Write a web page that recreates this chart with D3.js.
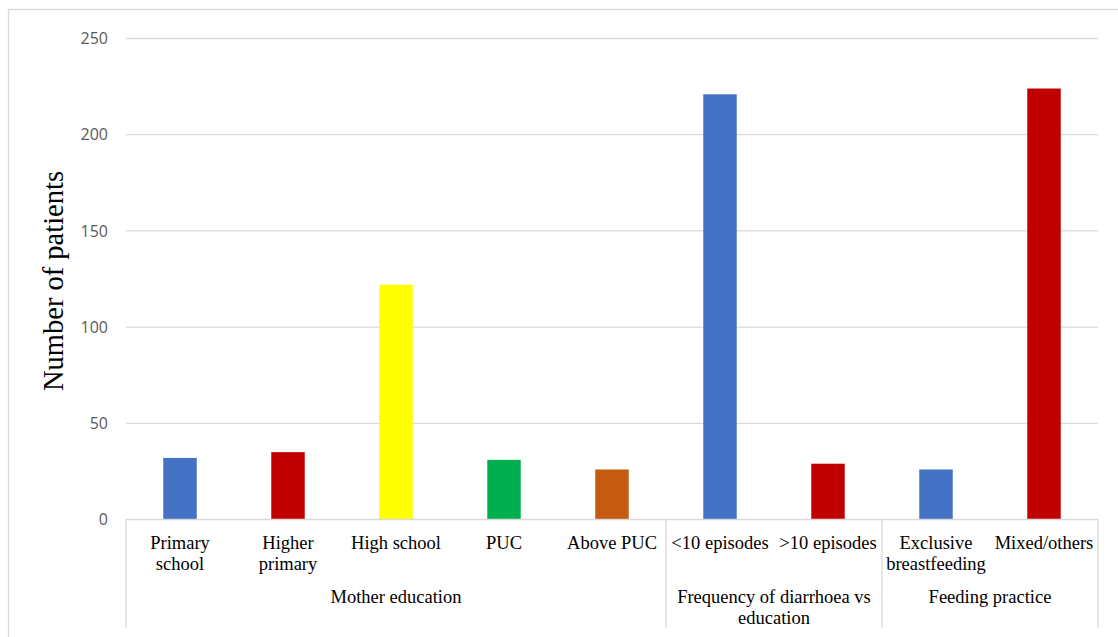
<!DOCTYPE html>
<html>
<head>
<meta charset="utf-8">
<script src="https://cdn.jsdelivr.net/npm/d3@7/dist/d3.min.js"></script>
<style>
  html, body { margin: 0; padding: 0; background: #fff; }
  svg { display: block; }
</style>
</head>
<body>
<svg id="chart" width="1118" height="637"></svg>
<script>
// ---- data ----
const categories = ["Primary school", "Higher primary", "High school", "PUC", "Above PUC",
                    "<10 episodes", ">10 episodes", "Exclusive breastfeeding", "Mixed/others"];
const values = [32, 35, 122, 31, 26, 221, 29, 26, 224];
const groupNames = ["Mother education", "Frequency of diarrhoea vs education", "Feeding practice"];
const groupSizes = [5, 2, 2];
const barColors = ["#4472C4", "#C00000", "#FFFF00", "#00B050", "#C55A11",
                   "#4472C4", "#C00000", "#4472C4", "#C00000"];
const yTicks = [0, 50, 100, 150, 200, 250];
const yTitle = "Number of patients";

// ---- layout ----
const svg = d3.select("#chart");
const plotLeft = 126, plotRight = 1098, plotTop = 38.5, plotBottom = 519.5;
const axisBottom = 628;
const gridColor = "#d9d9d9";

// chart border
svg.append("rect")
  .attr("x", 8.5).attr("y", 9.5).attr("width", 1120).attr("height", 640)
  .attr("fill", "none").attr("stroke", gridColor).attr("stroke-width", 1.3);

const x = d3.scaleBand().domain(categories).range([plotLeft, plotRight])
  .paddingInner(0.69).paddingOuter(0.345);
const y = d3.scaleLinear().domain([0, 250]).range([plotBottom, plotTop]);

// gridlines
svg.append("g").selectAll("line").data(yTicks.filter(d => d > 0)).join("line")
  .attr("x1", plotLeft).attr("x2", plotRight)
  .attr("y1", d => y(d)).attr("y2", d => y(d))
  .attr("stroke", gridColor).attr("stroke-width", 1.3);

// y tick labels
svg.append("g").selectAll("text").data(yTicks).join("text")
  .attr("x", 108).attr("y", d => y(d)).attr("dy", "0.35em")
  .attr("text-anchor", "end")
  .attr("font-family", "'Open Sans', sans-serif").attr("font-size", 16)
  .attr("fill", "#595959")
  .text(d => d);

const serif = "'Liberation Serif', 'Times New Roman', serif";

// y title
svg.append("text")
  .attr("transform", `translate(63,${(plotTop + plotBottom) / 2 + 2}) rotate(-90)`)
  .attr("text-anchor", "middle")
  .attr("font-family", serif)
  .attr("font-size", 28.5).attr("fill", "#000")
  .text(yTitle);

// bars
svg.append("g").selectAll("rect").data(categories).join("rect")
  .attr("x", d => x(d)).attr("width", x.bandwidth())
  .attr("y", (d, i) => y(values[i]))
  .attr("height", (d, i) => y(0) - y(values[i]))
  .attr("fill", (d, i) => barColors[i]);

// category axis: baseline and boundary lines
svg.append("line").attr("x1", plotLeft).attr("x2", plotRight)
  .attr("y1", plotBottom).attr("y2", plotBottom)
  .attr("stroke", gridColor).attr("stroke-width", 1.3);

let cum = 0;
const bounds = [0];
groupSizes.forEach(n => { cum += n; bounds.push(cum); });
const step = x.step();
svg.append("g").selectAll("line").data(bounds).join("line")
  .attr("x1", d => plotLeft + d * step).attr("x2", d => plotLeft + d * step)
  .attr("y1", plotBottom).attr("y2", axisBottom)
  .attr("stroke", gridColor).attr("stroke-width", 1.3);

// text wrap helper
function wrapText(sel, width, lineH) {
  sel.each(function () {
    const t = d3.select(this);
    const words = t.text().split(/\s+/);
    const xPos = t.attr("x"), yPos = +t.attr("y");
    t.text(null);
    let line = [], lineNo = 0;
    let ts = t.append("tspan").attr("x", xPos).attr("y", yPos);
    for (const w of words) {
      line.push(w);
      ts.text(line.join(" "));
      if (ts.node().getComputedTextLength() > width && line.length > 1) {
        line.pop();
        ts.text(line.join(" "));
        line = [w];
        lineNo++;
        ts = t.append("tspan").attr("x", xPos).attr("y", yPos + lineNo * lineH).text(w);
      }
    }
  });
}

// category labels
svg.append("g").selectAll("text").data(categories).join("text")
  .attr("x", d => x(d) + x.bandwidth() / 2).attr("y", 549)
  .attr("text-anchor", "middle")
  .attr("font-family", serif).attr("font-size", 18.5).attr("fill", "#000")
  .text(d => d)
  .call(wrapText, 102, 20.5);

// group labels
svg.append("g").selectAll("text").data(groupNames).join("text")
  .attr("x", (d, i) => plotLeft + (bounds[i] + bounds[i + 1]) / 2 * step).attr("y", 603)
  .attr("text-anchor", "middle")
  .attr("font-family", serif).attr("font-size", 18.5).attr("fill", "#000")
  .text(d => d)
  .call(wrapText, 200, 20.5);
</script>
</body>
</html>
